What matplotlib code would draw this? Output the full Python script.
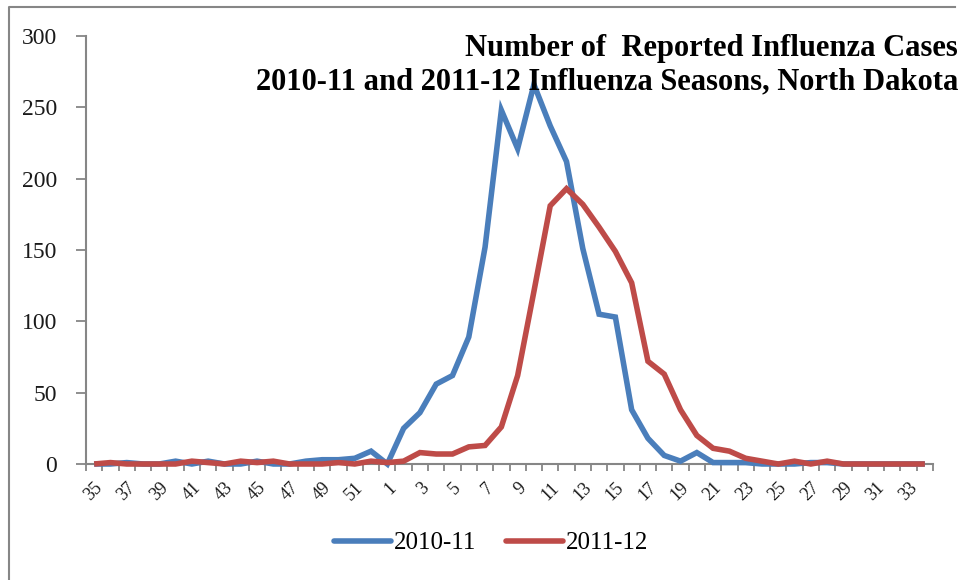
import matplotlib
matplotlib.use("Agg")
import matplotlib.pyplot as plt
from matplotlib.lines import Line2D
import numpy as np

# Surveillance weeks: 35-52 of the first calendar year, then 1-34 of the next
weeks = list(range(35, 53)) + list(range(1, 35))

cases_2010_11 = [0, 0, 1, 0, 0, 2, 0, 2, 0, 0, 2, 0, 0, 2, 3, 3, 4, 9,
                 0, 25, 36, 56, 62, 89, 152, 248, 221, 266, 237, 212, 151, 105,
                 103, 38, 18, 6, 2, 8, 1, 1, 1, 0, 0, 0, 1, 1, 0, 0, 0, 0, 0, 0]

cases_2011_12 = [0, 1, 0, 0, 0, 0, 2, 1, 0, 2, 1, 2, 0, 0, 0, 1, 0, 2,
                 1, 2, 8, 7, 7, 12, 13, 26, 62, 121, 181, 193, 182, 166,
                 149, 127, 72, 63, 38, 20, 11, 9, 4, 2, 0, 2, 0, 2, 0, 0, 0, 0, 0, 0]

season_labels = ["2010-11", "2011-12"]
line_colors = ["#4A7EBB", "#BE4B48"]

title_text = ("Number of  Reported Influenza Cases\n"
              "2010-11 and 2011-12 Influenza Seasons, North Dakota")

serif = ["Liberation Serif", "DejaVu Serif"]
plt.rcParams["font.family"] = serif

W, H = 964, 580
fig = plt.figure(figsize=(W / 100, H / 100), dpi=100)
ax = fig.add_axes([86 / W, 1 - 464 / H, (933 - 86) / W, (464 - 36) / H])

x = np.arange(len(weeks))
for vals, lab, col in zip([cases_2010_11, cases_2011_12], season_labels, line_colors):
    ax.plot(x, vals, color=col, lw=4, solid_joinstyle="miter",
            solid_capstyle="butt", label=lab, clip_on=False, zorder=3)

ax.set_xlim(-0.5, len(weeks) - 0.5)
ax.set_ylim(0, 300)

# y axis
ax.set_yticks(np.arange(0, 301, 50))
ax.tick_params(axis="y", direction="out", length=7, width=1.3, color="#868686",
               labelsize=17, pad=14, labelcolor="#1a1a1a")

# x axis: tick marks between categories, label every other week
ax.set_xticks(x[::2])
ax.set_xticklabels([str(w) for w in weeks[::2]], rotation=45, ha="right",
                   va="top", rotation_mode="anchor", fontsize=13, color="#1a1a1a")
ax.tick_params(axis="x", which="major", length=0, pad=11)
ax.set_xticks(np.arange(-0.5, len(weeks), 1.0), minor=True)
ax.tick_params(axis="x", which="minor", direction="out", length=5, width=1.3,
               color="#868686")

for side in ("top", "right"):
    ax.spines[side].set_visible(False)
for side in ("left", "bottom"):
    ax.spines[side].set_color("#868686")
    ax.spines[side].set_linewidth(1.5)

# title, right aligned inside the plot area
fig.text(958 / W, 1 - 89 / H, title_text, ha="right", va="baseline",
         fontsize=22, fontweight="bold", linespacing=1.2, color="black")

# legend below the axis
handles = [Line2D([0], [0], color=c, lw=4, solid_capstyle="round") for c in line_colors]
fig.legend(handles, season_labels, loc="center", bbox_to_anchor=(491 / W, 1 - 543 / H),
           ncol=2, frameon=False, fontsize=18, handlelength=2.3, handletextpad=0.1,
           columnspacing=1.2)

# chart area outline
fig.add_artist(Line2D([8.5 / W, 8.5 / W, 955 / W], [0, 1 - 6.5 / H, 1 - 6.5 / H],
                      transform=fig.transFigure, color="#868686", lw=1.5))

fig.savefig("out.png", dpi=100, facecolor="white")
